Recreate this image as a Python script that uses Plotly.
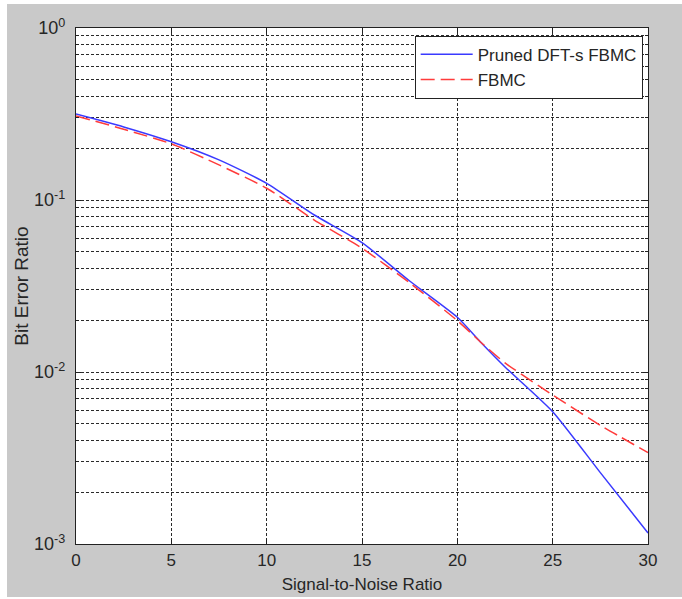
import plotly.graph_objects as go

snr = [0, 2.5, 5, 7.5, 10, 12.5, 15, 17.5, 20, 21.2, 22.5, 25, 27.5, 30]
ber_pruned = [0.316, 0.266, 0.218, 0.171, 0.125, 0.0818, 0.0565, 0.0338, 0.0208,
              0.0150, 0.0107, 0.00588, 0.0026, 0.00116]
ber_fbmc = [0.308, 0.258, 0.212, 0.160, 0.117, 0.0765, 0.0524, 0.0330, 0.0199,
            0.0150, 0.0113, 0.00735, 0.0049, 0.0034]

x_ticks = [0, 5, 10, 15, 20, 25, 30]
y_ticks = [1e-3, 1e-2, 1e-1, 1e0]
y_ticktext = ["10<sup>-3</sup>", "10<sup>-2</sup>", "10<sup>-1</sup>", "10<sup>0</sup>"]
y_minor = [m * 10 ** e for e in (-3, -2, -1) for m in range(2, 10)]

FONT = "Liberation Sans, Arial, sans-serif"
TXT = "#262626"
GRID = "#2a2a2a"

fig = go.Figure()
fig.add_trace(go.Scatter(x=snr, y=ber_pruned, mode="lines", name="Pruned DFT-s FBMC",
                         line=dict(color="#3a3aff", width=1.5, shape="spline", smoothing=0.6)))
fig.add_trace(go.Scatter(x=snr, y=ber_fbmc, mode="lines", name="FBMC",
                         line=dict(color="#ff3b3b", width=1.5, dash="14px,6px",
                                   shape="spline", smoothing=0.6)))

L, T, R, B = 76, 28, 34, 55
W, H = 682, 599
pw, ph = W - L - R, H - T - B

def px_to_paper_x(px):
    return (px - L) / pw

def px_to_paper_y(py):
    return (H - B - py) / ph

fig.add_shape(type="rect", xref="paper", yref="paper", layer="below",
              x0=px_to_paper_x(7), x1=px_to_paper_x(682),
              y0=px_to_paper_y(597), y1=px_to_paper_y(4),
              fillcolor="#c9c9c9", line=dict(width=0))
fig.add_shape(type="rect", xref="paper", yref="paper", layer="below",
              x0=0, x1=1, y0=0, y1=1, fillcolor="white", line=dict(width=0))

fig.update_layout(
    width=W, height=H,
    margin=dict(l=L, r=R, t=T, b=B),
    paper_bgcolor="white", plot_bgcolor="white",
    font=dict(family=FONT, size=16, color=TXT),
    showlegend=True,
    legend=dict(x=0.9907, y=0.985, xanchor="right", yanchor="top",
                bgcolor="white", bordercolor="#222", borderwidth=1,
                font=dict(family=FONT, size=17, color=TXT), itemwidth=52,
                tracegroupgap=0),
)
fig.update_xaxes(
    range=[0, 30], tickmode="array", tickvals=x_ticks,
    ticks="inside", ticklen=5, tickcolor="#222", mirror="ticks",
    showline=True, linecolor="#222", linewidth=1.2,
    showgrid=True, gridcolor=GRID, griddash="3px,2px", gridwidth=1,
    zeroline=False, automargin=False,
    tickfont=dict(family=FONT, size=17, color=TXT),
    title=dict(text="Signal-to-Noise Ratio", standoff=9,
               font=dict(family=FONT, size=17, color=TXT)),
)
fig.update_yaxes(
    type="log", range=[-3, 0], tickmode="array", tickvals=y_ticks, ticktext=y_ticktext,
    ticks="inside", ticklen=5, tickcolor="#222", mirror="ticks",
    showline=True, linecolor="#222", linewidth=1.2,
    showgrid=True, gridcolor=GRID, griddash="3px,2px", gridwidth=1,
    minor=dict(tickmode="array", tickvals=y_minor, ticks="inside", ticklen=3,
               tickcolor="#222", showgrid=True, gridcolor=GRID,
               griddash="3px,2px", gridwidth=1),
    zeroline=False, automargin=False, ticklabelstandoff=6,
    tickfont=dict(family=FONT, size=18, color=TXT),
    title=dict(text="Bit Error Ratio", standoff=0,
               font=dict(family=FONT, size=19, color=TXT)),
)

fig.write_html("out.html", config={"displayModeBar": False},
               post_script="document.body.style.margin='0';")
